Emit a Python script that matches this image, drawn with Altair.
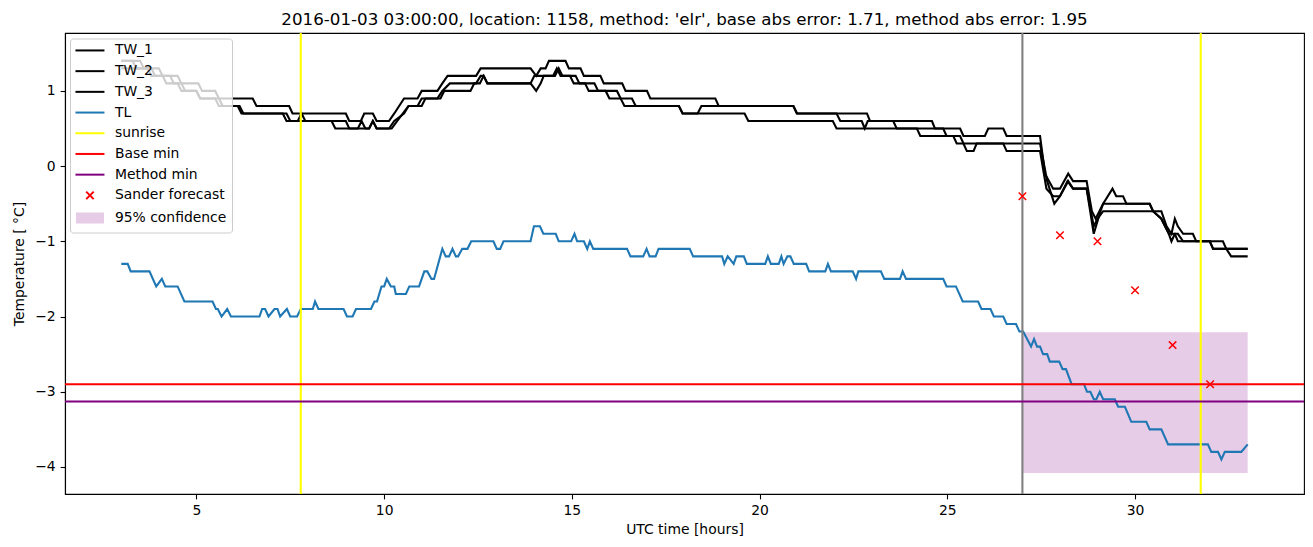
import altair as alt
import pandas as pd

TITLE = "2016-01-03 03:00:00, location: 1158, method: 'elr', base abs error: 1.71, method abs error: 1.95"

# TL series (time [h], temperature [C]) vertices
TL_T = [3.0, 3.17, 3.25, 3.75, 3.93, 4.08, 4.17, 4.5, 4.68, 5.43, 5.52, 5.57, 5.67, 5.82, 5.92,
        6.68, 6.75, 6.83, 6.92, 7.08, 7.16, 7.23, 7.41, 7.5, 7.68, 7.78, 8.1, 8.16, 8.25, 8.92,
        9.01, 9.16, 9.25, 9.65, 9.74, 9.81, 9.93, 10.0, 10.07, 10.18, 10.27, 10.31, 10.58, 10.67,
        10.93, 11.07, 11.15, 11.26, 11.33, 11.55, 11.64, 11.73, 11.82, 11.91, 11.97, 12.08, 12.22,
        12.32, 12.91, 13.0, 13.09, 13.18, 13.9, 13.99, 14.15, 14.24, 14.57, 14.65, 14.98, 15.07,
        15.14, 15.32, 15.41, 15.48, 15.57, 16.47, 16.56, 16.9, 16.99, 17.07, 17.23, 17.31, 18.14,
        18.23, 19.0, 19.06, 19.15, 19.31, 19.38, 19.58, 19.66, 20.15, 20.22, 20.3, 20.51, 20.58,
        20.64, 20.74, 20.82, 20.91, 21.24, 21.32, 21.75, 21.82, 21.9, 22.48, 22.57, 22.63, 23.23,
        23.32, 23.74, 23.81, 23.9, 24.89, 24.98, 25.23, 25.41, 25.82, 25.91, 26.15, 26.24, 26.49,
        26.58, 26.83, 26.92, 27.02, 27.23, 27.31, 27.39, 27.47, 27.55, 27.66, 27.73, 27.98, 28.07,
        28.16, 28.31, 28.64, 28.72, 28.81, 28.9, 28.97, 29.06, 29.15, 29.46, 29.55, 29.73, 29.9,
        30.3, 30.39, 30.7, 30.88, 31.94, 32.03, 32.21, 32.3, 32.39, 32.83, 33.0]
TL_V = [-1.3, -1.3, -1.4, -1.4, -1.6, -1.5, -1.6, -1.6, -1.8, -1.8, -1.9, -1.9, -2.0, -1.9, -2.0,
        -2.0, -1.9, -1.9, -2.0, -1.9, -1.9, -2.0, -1.9, -2.0, -2.0, -1.9, -1.9, -1.8, -1.9, -1.9,
        -2.0, -2.0, -1.9, -1.9, -1.8, -1.8, -1.6, -1.6, -1.5, -1.6, -1.6, -1.7, -1.7, -1.6,
        -1.6, -1.4, -1.4, -1.5, -1.5, -1.1, -1.2, -1.2, -1.1, -1.2, -1.2, -1.1, -1.1,
        -1.0, -1.0, -1.1, -1.1, -1.0, -1.0, -0.8, -0.8, -0.9, -0.9, -1.0, -1.0, -0.9,
        -1.0, -1.0, -1.1, -1.0, -1.1, -1.1, -1.2, -1.2, -1.1, -1.2, -1.2, -1.1, -1.1,
        -1.2, -1.2, -1.3, -1.2, -1.3, -1.2, -1.2, -1.3, -1.3, -1.2, -1.3, -1.3, -1.2,
        -1.3, -1.2, -1.2, -1.3, -1.3, -1.4, -1.4, -1.3, -1.4, -1.4, -1.5, -1.4, -1.4,
        -1.5, -1.5, -1.4, -1.5, -1.5, -1.6, -1.6, -1.8, -1.8, -1.9, -1.9, -2.0, -2.0,
        -2.1, -2.1, -2.2, -2.2, -2.4, -2.3, -2.4, -2.4, -2.5, -2.5, -2.6, -2.6, -2.7,
        -2.7, -2.9, -2.9, -3.0, -3.0, -3.1, -3.1, -3.0, -3.1, -3.1, -3.2, -3.2, -3.4,
        -3.4, -3.5, -3.5, -3.7, -3.7, -3.8, -3.8, -3.9, -3.8, -3.8, -3.7]

TW1_T = [3.0, 3.5, 3.6, 4.0, 4.1, 4.5, 4.6, 5.05, 5.15, 5.5, 5.6, 6.5, 6.6, 7.47, 7.56, 8.98,
         9.07, 9.38, 9.47, 9.7, 9.8, 10.13, 10.27, 10.4, 10.53, 10.89, 11.0, 11.42, 11.55, 11.69,
         12.45, 12.57, 13.9, 14.05, 14.17, 14.3, 14.39, 14.83, 14.92, 15.23, 15.32, 15.76, 15.85,
         16.34, 16.43, 17.0, 17.09, 18.82, 18.91, 20.9, 20.99, 22.86, 22.94, 24.59, 24.67, 25.34,
         25.43, 26.0, 26.09, 26.49, 26.58, 27.47, 27.6, 27.82, 28.0, 28.22, 28.35, 28.71, 28.85,
         28.95, 29.15, 30.39, 30.48, 30.7, 30.84, 30.97, 31.06, 31.14, 31.28, 31.54, 31.63, 32.34,
         32.43, 33.0]
TW1_V = [1.4, 1.4, 1.3, 1.3, 1.2, 1.2, 1.1, 1.1, 1.0, 1.0, 0.9, 0.9, 0.8, 0.8, 0.7, 0.7,
         0.6, 0.6, 0.7, 0.7, 0.6, 0.6, 0.7, 0.8, 0.9, 0.9, 1.0, 1.0, 1.1, 1.2,
         1.2, 1.3, 1.3, 1.2, 1.3, 1.3, 1.4, 1.4, 1.3, 1.3, 1.2, 1.2, 1.1,
         1.1, 1.0, 1.0, 0.9, 0.9, 0.8, 0.8, 0.7, 0.7, 0.6, 0.6, 0.5, 0.5,
         0.4, 0.4, 0.5, 0.5, 0.4, 0.4, -0.1, -0.3, -0.3, -0.1, -0.2, -0.2, -0.6,
         -0.7, -0.5, -0.5, -0.6, -0.6, -0.8, -0.9, -0.7, -0.8, -0.9, -0.9, -1.0, -1.0,
         -1.1, -1.1]

TW2_T = [3.0, 3.3, 3.4, 3.8, 3.9, 4.3, 4.4, 4.6, 4.7, 5.0, 5.1, 5.5, 5.6, 6.15, 6.25, 7.3,
         7.4, 7.7, 7.8, 7.9, 8.6, 8.7, 9.3, 9.4, 9.5, 9.6, 9.7, 9.8, 10.13, 10.27, 10.53, 10.65,
         10.89, 11.0, 11.42, 11.55, 11.75, 12.45, 12.57, 12.65, 12.75, 13.9, 14.05, 14.17, 14.25,
         14.55, 14.65, 14.75, 14.95, 15.05, 15.35, 15.45, 15.9, 16.0, 16.3, 16.4, 17.85, 17.95,
         18.35, 18.45, 20.9, 21.0, 22.05, 22.15, 22.72, 22.8, 22.88, 23.56, 23.65, 24.89, 24.98,
         25.34, 25.43, 27.47, 27.66, 27.85, 28.0, 28.2, 28.35, 28.71, 28.9, 29.08, 29.15, 29.4,
         29.5, 29.68, 29.77, 30.39, 30.48, 30.7, 30.9, 30.97, 31.06, 31.14, 31.28, 31.99, 32.08,
         32.43, 32.56, 33.0]
TW2_V = [1.4, 1.4, 1.3, 1.3, 1.2, 1.2, 1.1, 1.1, 1.0, 1.0, 0.9, 0.9, 0.8, 0.8, 0.7, 0.7,
         0.6, 0.6, 0.7, 0.6, 0.6, 0.5, 0.5, 0.6, 0.5, 0.5, 0.6, 0.5, 0.5, 0.6, 0.7, 0.8,
         0.8, 0.9, 0.9, 1.0, 1.1, 1.1, 1.2, 1.2, 1.1, 1.1, 1.0, 1.1, 1.2,
         1.2, 1.3, 1.2, 1.2, 1.1, 1.1, 1.0, 1.0, 0.9, 0.9, 0.8, 0.8, 0.7,
         0.7, 0.8, 0.8, 0.7, 0.7, 0.6, 0.6, 0.5, 0.6, 0.6, 0.5, 0.5, 0.4,
         0.4, 0.3, 0.3, -0.2, -0.5, -0.4, -0.2, -0.3, -0.3, -0.9, -0.6, -0.5, -0.3,
         -0.4, -0.4, -0.5, -0.5, -0.6, -0.7, -0.9, -1.0, -0.9, -0.9, -1.0, -1.0, -1.1,
         -1.1, -1.2, -1.2]

TW3_T = [3.0, 3.7, 3.8, 4.1, 4.2, 4.5, 4.6, 5.0, 5.1, 5.6, 5.7, 6.1, 6.2, 7.4, 7.5, 8.98,
         9.07, 9.6, 9.7, 9.8, 10.2, 10.35, 10.5, 10.65, 11.0, 11.1, 11.5, 11.6, 12.3, 12.4,
         12.55, 12.65, 12.75, 13.9, 14.0, 14.5, 14.6, 14.7, 15.1, 15.2, 15.6, 15.7, 16.2, 16.3,
         16.6, 16.7, 17.85, 17.95, 19.6, 19.7, 21.95, 22.05, 24.19, 24.28, 25.16, 25.25, 25.43,
         25.52, 25.7, 25.78, 26.49, 26.58, 27.47, 27.64, 27.82, 28.0, 28.22, 28.35, 28.71, 28.9,
         29.0, 29.15, 29.77, 29.85, 30.39, 30.48, 30.7, 30.9, 31.06, 31.14, 31.99, 32.08, 33.0]
TW3_V = [1.3, 1.3, 1.2, 1.2, 1.1, 1.1, 1.0, 1.0, 0.9, 0.9, 0.8, 0.8, 0.7, 0.7, 0.6, 0.6,
         0.5, 0.5, 0.6, 0.5, 0.5, 0.6, 0.7, 0.8, 0.8, 0.9, 0.9, 1.0, 1.0, 1.1,
         1.1, 1.2, 1.1, 1.1, 1.2, 1.2, 1.3, 1.2, 1.2, 1.1, 1.1, 1.0, 1.0, 0.9,
         0.9, 0.8, 0.8, 0.7, 0.7, 0.6, 0.6, 0.5, 0.5, 0.4, 0.4, 0.3, 0.3,
         0.2, 0.2, 0.3, 0.3, 0.2, 0.2, -0.3, -0.4, -0.4, -0.2, -0.3, -0.3, -0.8,
         -0.7, -0.6, -0.6, -0.6, -0.6, -0.6, -0.7, -0.9, -0.9, -1.0, -1.0, -1.1, -1.1]

SUNRISE_T = [7.78, 31.75]
FORECAST_START_T = [27.0]
BASE_MIN = [-2.9]
METHOD_MIN = [-3.13]
SANDER_T = [27, 28, 29, 30, 31, 32]
SANDER_V = [-0.40, -0.92, -1.00, -1.65, -2.38, -2.90]
CONF_T0 = [27.0]
CONF_T1 = [33.0]
CONF_LO = [-4.08]
CONF_HI = [-2.21]

X_TICKS = [5, 10, 15, 20, 25, 30]
Y_TICKS = [-4, -3, -2, -1, 0, 1]

LEGEND_LABELS = ["TW_1", "TW_2", "TW_3", "TL", "sunrise", "Base min", "Method min",
                 "Sander forecast", "95% confidence"]
LEGEND_COLORS = ["#000000", "#000000", "#000000", "#1f77b4", "#ffff00", "#ff0000", "#800080",
                 "#ff0000", "#e6cce6"]

FONT = "DejaVu Sans"
LINE_PATH = "M-2.9,0L2.9,0"
X_PATH_LEG = "M-0.75,-0.75L0.75,0.75M-0.75,0.75L0.75,-0.75"
RECT_PATH = "".join(f"M-2.8,{y:.2f}L2.8,{y:.2f}" for y in [-0.9, -0.7, -0.5, -0.3, -0.1, 0.1, 0.3, 0.5, 0.7, 0.9])
LEGEND_SHAPES = [LINE_PATH] * 7 + [X_PATH_LEG, RECT_PATH]
X_PATH = "M-1,-1L1,1M-1,1L1,-1"

tw = pd.concat([
    pd.DataFrame({"t": TW1_T, "v": TW1_V, "series": "TW_1"}),
    pd.DataFrame({"t": TW2_T, "v": TW2_V, "series": "TW_2"}),
    pd.DataFrame({"t": TW3_T, "v": TW3_V, "series": "TW_3"}),
], ignore_index=True)
tl = pd.DataFrame({"t": TL_T, "v": TL_V})
sun = pd.DataFrame({"t": SUNRISE_T})
fstart = pd.DataFrame({"t": FORECAST_START_T})
hmin = pd.DataFrame({"v": BASE_MIN + METHOD_MIN, "kind": ["Base min", "Method min"]})
sander = pd.DataFrame({"t": SANDER_T, "v": SANDER_V})
conf = pd.DataFrame({"t0": CONF_T0, "t1": CONF_T1, "lo": CONF_LO, "hi": CONF_HI})
leg = pd.DataFrame({"label": LEGEND_LABELS, "t": [-100.0] * 9, "v": [0.0] * 9})

xs = alt.Scale(domain=[1.5, 34.5], nice=False, zero=False)
ys = alt.Scale(domain=[-4.36, 1.77], nice=False, zero=False)
x_axis = alt.Axis(values=X_TICKS, format="d", title="UTC time [hours]", grid=False)
y_axis = alt.Axis(values=Y_TICKS, format="d", title="Temperature [ °C]", grid=False)


def X(field):
    return alt.X(field, type="quantitative", scale=xs, axis=x_axis)


def Y(field):
    return alt.Y(field, type="quantitative", scale=ys, axis=y_axis)


conf_layer = alt.Chart(conf).mark_rect(color="purple", opacity=0.2).encode(
    x=X("t0"), x2="t1", y=Y("lo"), y2="hi")

tw_layer = alt.Chart(tw).mark_line(color="black", strokeWidth=2.1).encode(
    x=X("t"), y=Y("v"), detail="series:N")

tl_layer = alt.Chart(tl).mark_line(color="#1f77b4", strokeWidth=2.1).encode(
    x=X("t"), y=Y("v"))

sun_layer = alt.Chart(sun).mark_rule(color="#ffff00", strokeWidth=2.1).encode(x=X("t"))
fstart_layer = alt.Chart(fstart).mark_rule(color="#808080", strokeWidth=2.1).encode(x=X("t"))
hmin_layer = alt.Chart(hmin).mark_rule(strokeWidth=2.1).encode(
    y=Y("v"),
    stroke=alt.Stroke("kind:N", scale=alt.Scale(domain=["Base min", "Method min"],
                                                range=["#ff0000", "#800080"]), legend=None))

sander_layer = alt.Chart(sander).mark_point(
    shape=X_PATH, size=56, filled=False, color="#ff0000", strokeWidth=1.5, opacity=1
).encode(x=X("t"), y=Y("v"))

legend_props = dict(
    title=None, orient="none", legendX=5, legendY=5.5,
    symbolSize=100, symbolStrokeWidth=2, symbolOffset=8, symbolOpacity=1,
    labelFontSize=13.9, labelFont=FONT, labelColor="black", labelOffset=18,
    labelLimit=300,
    rowPadding=5.7, padding=5,
    fillColor="rgba(255,255,255,0.8)", strokeColor="#cccccc", cornerRadius=3,
)

leg_layer = alt.Chart(leg).mark_point(filled=False, opacity=1, clip=True).encode(
    x=X("t"), y=Y("v"),
    color=alt.Color("label:N", scale=alt.Scale(domain=LEGEND_LABELS, range=LEGEND_COLORS),
                    legend=alt.Legend(**legend_props)),
    shape=alt.Shape("label:N", scale=alt.Scale(domain=LEGEND_LABELS, range=LEGEND_SHAPES),
                    legend=alt.Legend(**legend_props)),
)

chart = alt.layer(
    conf_layer, tw_layer, tl_layer, sun_layer, fstart_layer, hmin_layer, sander_layer, leg_layer
).properties(
    width=1239, height=461,
    title=alt.TitleParams(text=TITLE, font=FONT, fontSize=16.7, fontWeight="normal",
                          color="black", anchor="middle", offset=8, dy=18,
                          baseline="alphabetic"),
    autosize=alt.AutoSizeParams(type="none"),
    padding={"left": 65, "top": 33, "right": 9, "bottom": 53},
).configure_view(
    stroke="black", strokeWidth=1.1
).configure_axis(
    labelFont=FONT, labelFontSize=13.9, labelColor="black",
    titleFont=FONT, titleFontSize=13.9, titleFontWeight="normal", titleColor="black",
    tickColor="black", tickWidth=1.1, tickSize=4.9, labelPadding=4.9,
    domainColor="black", domainWidth=1.1,
).configure_axisX(titlePadding=5).configure_axisY(titlePadding=8)

chart.save("out.html", embed_options={"renderer": "svg", "actions": False})
